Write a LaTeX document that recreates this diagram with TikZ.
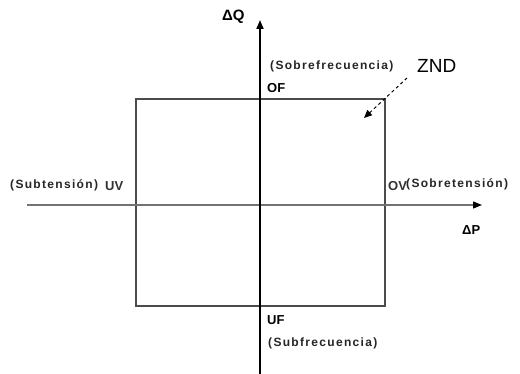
\documentclass[tikz,border=0pt]{standalone}
\usepackage{fontspec}
\setmainfont{Liberation Sans}
\newfontfamily\spaced[LetterSpace=11]{Liberation Sans}
\usetikzlibrary{arrows.meta}
\begin{document}
\begin{tikzpicture}[x=1pt,y=-1pt,
  lbl/.style={inner sep=0pt,anchor=west,text=black!85,font=\fontsize{12}{14}\selectfont\spaced\bfseries},
  capslbl/.style={inner sep=0pt,anchor=west,font=\fontsize{13}{15}\selectfont},
  axis/.style={line width=1.8pt,-{Triangle[length=9pt,width=7pt]}},
  haxis/.style={line width=1.3pt,color=black!55,-{Triangle[length=9pt,width=7pt,color=black]}},
  zone/.style={line width=1.4pt,color=black!70}]
\useasboundingbox[fill=white] (0,0) rectangle (520,374);
% coordinates
\coordinate (vb) at (260,374);
\coordinate (vt) at (260,20);
\coordinate (hl) at (27,205);
\coordinate (hr) at (482,205);
\coordinate (r1) at (136,99);
\coordinate (r2) at (385,306);
% zone rectangle
\draw[zone] (r1) rectangle (r2);
% axes
\draw[haxis] (hl) -- (hr);
\draw[axis] (vb) -- (vt);
% labels
\node[capslbl,font=\fontsize{15}{17}\selectfont\bfseries] (dq) at (222,17) {ΔQ};
\node[capslbl,font=\fontsize{13}{15}\selectfont\bfseries] (dp) at (462,230) {ΔP};
\node[lbl] (sobf) at (270,66) {(Sobrefrecuencia)};
\node[capslbl,font=\fontsize{13}{15}\selectfont\bfseries] (of) at (267,88) {OF};
\node[capslbl,font=\fontsize{13}{15}\selectfont\bfseries] (uf) at (267,320) {UF};
\node[lbl] (subf) at (268,343) {(Subfrecuencia)};
\node[lbl] (subt) at (10,185) {(Subtensión)};
\node[capslbl,font=\fontsize{13}{15}\selectfont\bfseries,text=black!80] (uv) at (105,186) {UV};
\node[capslbl,font=\fontsize{13}{15}\selectfont\bfseries,text=black!80] (ov) at (388,186) {OV};
\node[lbl] (sobt) at (406,184) {(Sobretensión)};
\node[capslbl,font=\fontsize{19}{22}\selectfont] (znd) at (417,66) {ZND};
\coordinate (za) at (407,78);
\coordinate (zb) at (364,118);
\draw[dashed,line width=1pt,-{Triangle[length=8pt,width=7pt]}] (za) -- (zb);
\end{tikzpicture}
\end{document}
